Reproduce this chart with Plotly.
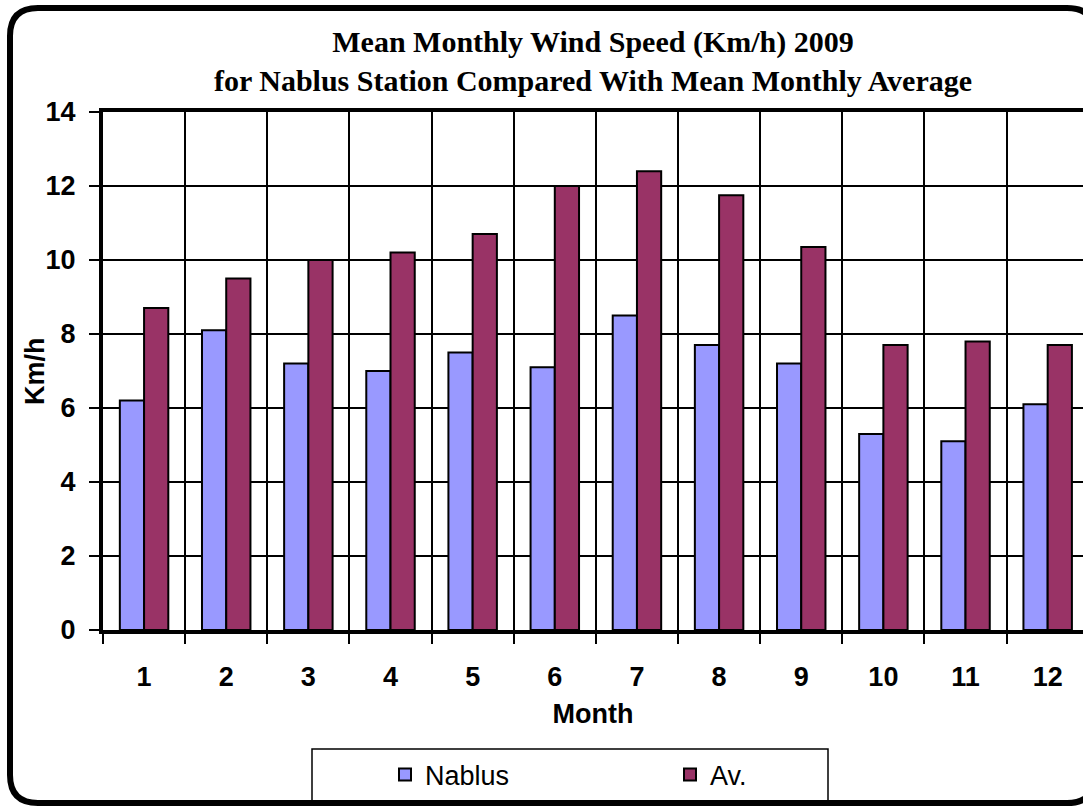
import plotly.graph_objects as go

months = ["1", "2", "3", "4", "5", "6", "7", "8", "9", "10", "11", "12"]
nablus = [6.2, 8.1, 7.2, 7.0, 7.5, 7.1, 8.5, 7.7, 7.2, 5.3, 5.1, 6.1]
average = [8.7, 9.5, 10.0, 10.2, 10.7, 12.0, 12.4, 11.75, 10.35, 7.7, 7.8, 7.7]
y_ticks = [0, 2, 4, 6, 8, 10, 12, 14]

W, H = 1083, 807
L, T, B, R = 103, 112, 630, 1083


def px(xp):
    return (xp - L) / (R - L)


def py(yp):
    return (B - yp) / (B - T)


fig = go.Figure()
fig.add_trace(go.Bar(x=months, y=nablus, name="Nablus",
                     marker=dict(color="#9999FF", line=dict(color="black", width=2))))
fig.add_trace(go.Bar(x=months, y=average, name="Av.",
                     marker=dict(color="#993366", line=dict(color="black", width=2))))

# outer rounded frame
x0, y0, x1, y1, r = 10, 8, 1095, 803, 28
path = (f"M {px(x0)},{py(y0 + r)} "
        f"Q {px(x0)},{py(y0)} {px(x0 + r)},{py(y0)} "
        f"L {px(x1 - r)},{py(y0)} Q {px(x1)},{py(y0)} {px(x1)},{py(y0 + r)} "
        f"L {px(x1)},{py(y1 - r)} Q {px(x1)},{py(y1)} {px(x1 - r)},{py(y1)} "
        f"L {px(x0 + r)},{py(y1)} Q {px(x0)},{py(y1)} {px(x0)},{py(y1 - r)} Z")

shapes = [
    dict(type="path", xref="paper", yref="paper", path=path,
         line=dict(color="black", width=6), layer="above"),
    dict(type="rect", xref="paper", yref="paper",
         x0=px(312), x1=px(828), y0=py(801), y1=py(749),
         line=dict(color="black", width=1.5)),
]

tickfont = dict(size=27, family="Liberation Sans", weight="bold", color="black")

fig.update_layout(
    width=W, height=H,
    margin=dict(l=L, r=W - R, t=T, b=H - B),
    paper_bgcolor="white", plot_bgcolor="white",
    barmode="group", bargap=0.41, bargroupgap=0,
    title=dict(text="Mean Monthly Wind Speed (Km/h) 2009<br>for Nablus Station Compared With Mean Monthly Average",
               x=0.5, xref="paper", xanchor="center", y=1 - 52 / H, yanchor="top",
               font=dict(family="Liberation Serif", size=30, color="black", weight="bold")),
    font=dict(family="Liberation Sans", color="black"),
    xaxis=dict(type="category", range=[-0.5, 11.43], tickson="boundaries",
               showgrid=True, gridcolor="black", gridwidth=2,
               showline=True, linecolor="black", linewidth=3.5, mirror=True,
               ticks="outside", ticklen=10, tickcolor="black", tickwidth=2,
               ticklabelstandoff=20,
               tickfont=tickfont,
               title=dict(text="Month", standoff=14,
                          font=dict(size=27, family="Liberation Sans", weight="bold"))),
    yaxis=dict(range=[0, 14], tickvals=y_ticks, showgrid=True, gridcolor="black", gridwidth=2,
               showline=True, linecolor="black", linewidth=4, zeroline=False,
               ticks="outside", ticklen=10, tickcolor="black", tickwidth=2,
               ticklabelstandoff=8,
               tickfont=tickfont),
    annotations=[dict(text="Km/h", xref="paper", yref="paper", x=px(35), y=0.5,
                      xanchor="center", yanchor="middle", textangle=-90, showarrow=False,
                      font=dict(size=27, family="Liberation Sans", weight="bold", color="black"))],
    legend=dict(orientation="h", x=px(385), xanchor="left", y=py(775), yanchor="middle",
                entrywidth=240, entrywidthmode="pixels", bgcolor="rgba(0,0,0,0)",
                font=dict(size=27, family="Liberation Sans", color="black")),
    shapes=shapes,
)

fig.write_html("out.html", config={"displayModeBar": False},
               post_script="document.body.style.margin='0';document.body.style.overflow='hidden';")
